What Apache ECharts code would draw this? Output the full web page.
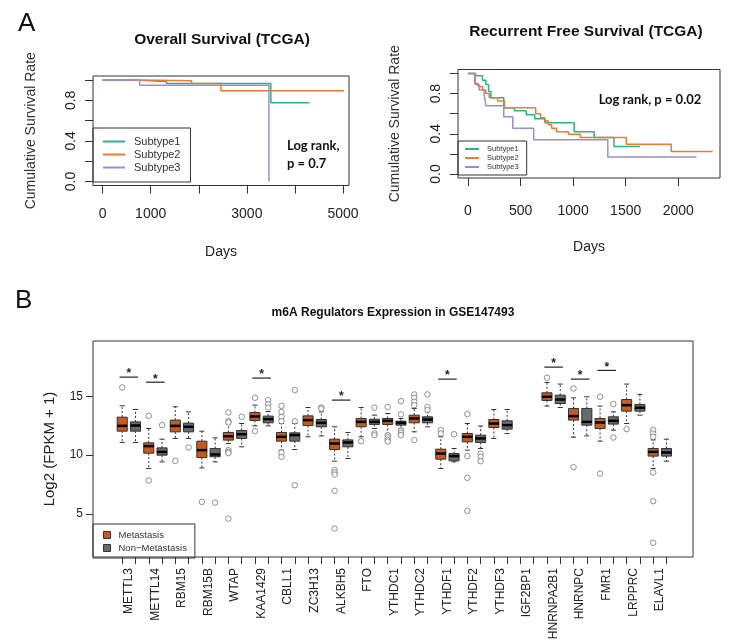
<!DOCTYPE html>
<html>
<head>
<meta charset="utf-8">
<script src="https://cdn.jsdelivr.net/npm/echarts@6/dist/echarts.min.js"></script>
<style>html,body{margin:0;padding:0;background:#fff}#main{width:738px;height:643px}</style>
</head>
<body>
<div id="main"></div>
<script>
// A - overall survival, step points (day, survival after event)
var osDays1 = [0, 620, 1330, 3500, 4300];
var osSurv1 = [1, 0.985, 0.965, 0.775, 0.775];
var osDays2 = [0, 770, 1850, 2460, 5020];
var osSurv2 = [1, 0.993, 0.967, 0.895, 0.895];
var osDays3 = [0, 770, 3460];
var osSurv3 = [1, 0.948, 0];

// A - recurrent free survival
var rfsDays1 = [0, 74, 138, 170, 196, 218, 340, 442, 554, 635, 731, 1010, 1200, 1388, 1638];
var rfsSurv1 = [1, 0.977, 0.934, 0.89, 0.82, 0.76, 0.66, 0.63, 0.59, 0.55, 0.51, 0.42, 0.363, 0.274, 0.274];
var rfsDays2 = [0, 64, 96, 138, 170, 202, 282, 346, 644, 690, 731, 763, 795, 843, 955, 1067, 1506, 1933, 2327];
var rfsSurv2 = [1, 0.9, 0.87, 0.835, 0.8, 0.76, 0.726, 0.66, 0.6, 0.56, 0.53, 0.49, 0.455, 0.42, 0.395, 0.363, 0.297, 0.224, 0.224];
var rfsDays3 = [0, 70, 106, 154, 170, 340, 426, 625, 1330, 2173];
var rfsSurv3 = [1, 0.89, 0.835, 0.785, 0.68, 0.57, 0.455, 0.34, 0.168, 0.168];

var subtypes = ['Subtype1', 'Subtype2', 'Subtype3'];
var kmColors = ['#2bb38a', '#f07b2d', '#958fd8'];

// B - boxplots: [lower whisker, Q1, median, Q3, upper whisker]
var genes = ['METTL3', 'METTL14', 'RBM15', 'RBM15B', 'WTAP', 'KAA1429', 'CBLL1', 'ZC3H13', 'ALKBH5', 'FTO',
  'YTHDC1', 'YTHDC2', 'YTHDF1', 'YTHDF2', 'YTHDF3', 'IGF2BP1', 'HNRNPA2B1', 'HNRNPC', 'FMR1', 'LRPPRC', 'ELAVL1'];
var metaStats = [
  [11.08, 12.04, 12.49, 13.23, 14.19], [8.87, 10.17, 10.77, 11.05, 12.27], [11.42, 11.98, 12.49, 12.98, 14.11],
  [8.92, 9.80, 10.43, 11.19, 12.04], [10.99, 11.28, 11.61, 11.93, 12.69], [12.49, 12.95, 13.29, 13.63, 14.25],
  [10.43, 11.19, 11.56, 11.93, 12.69], [11.56, 12.52, 12.98, 13.34, 14.05], [9.49, 10.48, 10.99, 11.36, 12.41],
  [11.56, 12.41, 12.83, 13.12, 14.05], [11.84, 12.61, 12.92, 13.12, 13.54], [11.98, 12.75, 13.12, 13.40, 13.97],
  [8.87, 9.66, 10.14, 10.51, 11.56], [10.43, 11.13, 11.56, 11.84, 12.69], [11.42, 12.35, 12.69, 13.03, 13.88],
  null, [14.17, 14.65, 14.96, 15.30, 16.18], [11.53, 12.98, 13.32, 13.97, 14.87],
  [11.19, 12.27, 12.78, 13.12, 14.17], [12.69, 13.74, 14.25, 14.73, 16.04], [8.87, 9.92, 10.28, 10.57, 11.30]
];
var nonMetaStats = [
  [11.08, 12.04, 12.52, 12.83, 13.88], [9.43, 10.00, 10.28, 10.62, 11.36], [11.42, 11.98, 12.41, 12.72, 13.68],
  [9.43, 9.86, 10.06, 10.57, 11.47], [10.71, 11.42, 11.78, 12.10, 12.69], [12.49, 12.75, 13.06, 13.32, 13.70],
  [10.48, 11.19, 11.70, 11.90, 12.69], [11.64, 12.41, 12.75, 13.03, 13.68], [9.72, 10.71, 11.08, 11.30, 11.93],
  [12.27, 12.61, 12.83, 13.06, 13.40], [12.27, 12.55, 12.75, 12.89, 13.12], [12.41, 12.75, 13.03, 13.26, 13.70],
  [9.43, 9.52, 9.92, 10.14, 10.57], [10.57, 11.08, 11.42, 11.70, 12.47], [11.84, 12.21, 12.55, 12.92, 13.88],
  null, [14.05, 14.39, 14.73, 15.10, 16.04], [11.64, 12.55, 12.83, 13.97, 14.96],
  [12.13, 12.64, 12.92, 13.26, 13.68], [13.40, 13.74, 14.03, 14.31, 15.16], [9.49, 9.92, 10.23, 10.57, 11.36]
];
var metaOutliers = [
  [15.75], [13.34, 7.85], [9.52], [6.03], [13.63, 12.89, 12.78, 10.43, 10.28, 10.17, 4.61], [14.88, 12.04],
  [14.19, 13.68, 13.26, 12.89, 10.23, 9.86], [], [8.73, 8.53, 8.35, 6.97, 3.77], [11.19],
  [14.1, 11.7, 11.5, 11.3, 11.15], [15.16, 14.88, 14.54, 14.25, 11.28], [12.13, 11.84], [13.49, 9.92, 8.07, 5.27],
  [], [], [16.58], [15.67, 8.98], [14.96, 8.44], [12.21], [12.13, 11.84, 11.56, 8.53, 6.09, 2.55]
];
var nonMetaOutliers = [
  [], [12.55], [10.65], [5.97], [13.26], [14.68, 14.34, 14.05], [15.53, 12.89, 7.45], [14.05, 13.95], [],
  [14.03, 11.85, 11.7], [14.59, 13.46, 12.1, 11.9, 11.7], [15.16, 14.11, 13.83], [11.78], [10.14, 9.86, 9.49],
  [], [], [], [], [14.34, 11.5], [], []
];
var sigGenes = ['METTL3', 'METTL14', 'KAA1429', 'ALKBH5', 'YTHDF1', 'HNRNPA2B1', 'HNRNPC', 'FMR1'];
var sigHeights = [16.63, 16.2, 16.55, 14.68, 16.46, 17.48, 16.46, 17.2];

var metaColor = '#c85a1c', nonMetaColor = '#6a6a6a';
var FONT = '"Liberation Sans", Arial, sans-serif';

function zip(xs, ys) {
  return xs.map(function (x, i) { return [x, ys[i]]; });
}
function range(a, b, step) {
  var out = [];
  for (var v = a; v <= b + 1e-9; v += step) out.push(+v.toFixed(6));
  return out;
}

var boxMeta = [], boxNon = [], outPts = [], sigData = [];
genes.forEach(function (g, k) {
  if (metaStats[k]) boxMeta.push([2 * k].concat(metaStats[k]));
  if (nonMetaStats[k]) boxNon.push([2 * k + 1].concat(nonMetaStats[k]));
  metaOutliers[k].forEach(function (v) { outPts.push([2 * k, v]); });
  nonMetaOutliers[k].forEach(function (v) { outPts.push([2 * k + 1, v]); });
});
sigGenes.forEach(function (g, j) { sigData.push([2 * genes.indexOf(g), sigHeights[j]]); });

function renderBox(params, api) {
  var x = api.value(0);
  var lo = api.coord([x, api.value(1)]);
  var q1 = api.coord([x, api.value(2)]);
  var md = api.coord([x, api.value(3)]);
  var q3 = api.coord([x, api.value(4)]);
  var hi = api.coord([x, api.value(5)]);
  var w = api.size([1, 0])[0] * 0.76;
  var cx = lo[0], cap = w * 0.25;
  var dash = { stroke: '#333', lineWidth: 1, lineDash: [2, 2] };
  var solid = { stroke: '#333', lineWidth: 1 };
  return {
    type: 'group',
    children: [
      { type: 'line', shape: { x1: cx, y1: q3[1], x2: cx, y2: hi[1] }, style: dash },
      { type: 'line', shape: { x1: cx, y1: q1[1], x2: cx, y2: lo[1] }, style: dash },
      { type: 'line', shape: { x1: cx - cap, y1: hi[1], x2: cx + cap, y2: hi[1] }, style: solid },
      { type: 'line', shape: { x1: cx - cap, y1: lo[1], x2: cx + cap, y2: lo[1] }, style: solid },
      { type: 'rect', shape: { x: cx - w / 2, y: q3[1], width: w, height: q1[1] - q3[1] },
        style: { fill: api.visual('color'), stroke: '#333', lineWidth: 1 } },
      { type: 'line', shape: { x1: cx - w / 2, y1: md[1], x2: cx + w / 2, y2: md[1] },
        style: { stroke: '#000', lineWidth: 2.5 } }
    ]
  };
}

function renderSig(params, api) {
  var g = api.value(0), h = api.value(1);
  var a = api.coord([g - 0.2, h]), b = api.coord([g + 1.2, h]);
  return {
    type: 'group',
    children: [
      { type: 'line', shape: { x1: a[0], y1: a[1], x2: b[0], y2: b[1] }, style: { stroke: '#222', lineWidth: 1.2 } },
      { type: 'text', x: (a[0] + b[0]) / 2, y: a[1] - 3,
        style: { text: '*', fill: '#222', font: 'bold 12px ' + FONT, textAlign: 'center', textVerticalAlign: 'middle' } }
    ]
  };
}

function kmX(gi, min, max, ticks, labels, lblMargin, gap) {
  return {
    gridIndex: gi, type: 'value', min: min, max: max,
    axisLine: { show: false, onZero: false },
    axisTick: { customValues: ticks, length: 8, lineStyle: { color: '#333' } },
    axisLabel: { customValues: labels, margin: lblMargin, fontSize: 14, color: '#222', fontFamily: FONT,
      formatter: function (v) { return String(v); } },
    splitLine: { show: false },
    name: 'Days', nameLocation: 'middle', nameGap: gap,
    nameTextStyle: { fontSize: 14, color: '#222', fontFamily: FONT }
  };
}
function kmY(gi, gap) {
  return {
    gridIndex: gi, type: 'value', min: -0.04, max: 1.04,
    axisLine: { show: false, onZero: false },
    axisTick: { customValues: range(0, 1, 0.2), length: 8, lineStyle: { color: '#333' } },
    axisLabel: { customValues: [0, 0.4, 0.8], rotate: 90, margin: 15, fontSize: 14, color: '#222', fontFamily: FONT,
      formatter: function (v) { return v.toFixed(1); } },
    splitLine: { show: false },
    name: 'Cumulative Survival Rate', nameLocation: 'middle', nameGap: gap,
    nameTextStyle: { fontSize: 14, color: '#333', fontFamily: FONT }
  };
}

var series = [];
[[osDays1, osSurv1], [osDays2, osSurv2], [osDays3, osSurv3]].forEach(function (d, i) {
  series.push({ name: subtypes[i], type: 'line', xAxisIndex: 0, yAxisIndex: 0, step: 'end', showSymbol: false,
    data: zip(d[0], d[1]), color: kmColors[i], lineStyle: { width: 1.5 } });
});
[[rfsDays1, rfsSurv1], [rfsDays2, rfsSurv2], [rfsDays3, rfsSurv3]].forEach(function (d, i) {
  series.push({ name: subtypes[i], type: 'line', xAxisIndex: 1, yAxisIndex: 1, step: 'end', showSymbol: false,
    data: zip(d[0], d[1]), color: kmColors[i], lineStyle: { width: 1.5 } });
});
series.push({ name: 'Metastasis', type: 'custom', xAxisIndex: 2, yAxisIndex: 2, renderItem: renderBox,
  itemStyle: { color: metaColor }, encode: { x: 0, y: [1, 2, 3, 4, 5] }, data: boxMeta });
series.push({ name: 'Non\u2212Metastasis', type: 'custom', xAxisIndex: 2, yAxisIndex: 2, renderItem: renderBox,
  itemStyle: { color: nonMetaColor }, encode: { x: 0, y: [1, 2, 3, 4, 5] }, data: boxNon });
series.push({ name: 'outliers', type: 'scatter', xAxisIndex: 2, yAxisIndex: 2, symbol: 'circle', symbolSize: 5.5,
  itemStyle: { color: '#fff', borderColor: '#777', borderWidth: 1 }, data: outPts });
series.push({ name: 'sig', type: 'custom', xAxisIndex: 2, yAxisIndex: 2, renderItem: renderSig,
  encode: { x: 0, y: 1 }, data: sigData });

var chart = echarts.init(document.getElementById('main'));
chart.setOption({
  animation: false,
  backgroundColor: '#fff',
  grid: [
    { left: 93, top: 76, width: 256, height: 109.5, show: true, borderColor: '#333', borderWidth: 1 },
    { left: 458, top: 69.5, width: 262, height: 108.5, show: true, borderColor: '#333', borderWidth: 1 },
    { left: 93, top: 341, width: 600, height: 216, show: true, borderColor: '#333', borderWidth: 1 }
  ],
  xAxis: [
    kmX(0, -200, 5125, range(0, 5000, 1000), [0, 1000, 3000, 5000], 22, 60),
    kmX(1, -95, 2397, range(0, 2000, 500), range(0, 2000, 500), 26, 62),
    {
      gridIndex: 2, type: 'value', min: -2.2, max: 43,
      axisLine: { show: false, onZero: false },
      axisTick: { customValues: range(0, 41, 1), length: 7, lineStyle: { color: '#333' } },
      axisLabel: { customValues: range(0.5, 40.5, 2), rotate: 90, margin: 11, fontSize: 12, color: '#222', fontFamily: FONT,
        formatter: function (v) { return genes[Math.round((v - 0.5) / 2)]; } },
      splitLine: { show: false }
    }
  ],
  yAxis: [
    kmY(0, 55),
    kmY(1, 56),
    {
      gridIndex: 2, type: 'value', min: 1.35, max: 19.7,
      axisLine: { show: false, onZero: false },
      axisTick: { customValues: [5, 10, 15], length: 7, lineStyle: { color: '#333' } },
      axisLabel: { customValues: [5, 10, 15], margin: 10, fontSize: 12, color: '#222', fontFamily: FONT },
      splitLine: { show: false },
      name: 'Log2 (FPKM + 1)', nameLocation: 'middle', nameGap: 36,
      nameTextStyle: { fontSize: 15, color: '#222', fontFamily: FONT }
    }
  ],
  legend: [
    { data: subtypes, orient: 'vertical', left: 93, top: 128, icon: 'rect', itemWidth: 22, itemHeight: 2, itemGap: 2,
      padding: [8, 10, 9, 10], borderColor: '#333', borderWidth: 1, selectedMode: false,
      textStyle: { fontSize: 11, color: '#333', fontFamily: FONT, padding: [0, 0, 0, 4] } },
    { data: subtypes, orient: 'vertical', left: 458, top: 141, icon: 'rect', itemWidth: 14, itemHeight: 2, itemGap: 1,
      padding: [4, 8, 4, 7], borderColor: '#333', borderWidth: 1, selectedMode: false,
      textStyle: { fontSize: 7.5, color: '#333', fontFamily: FONT, padding: [0, 0, 0, 3] } },
    { data: ['Metastasis', 'Non\u2212Metastasis'], orient: 'vertical', left: 93, top: 524, icon: 'rect',
      itemWidth: 7, itemHeight: 7, itemGap: 3, padding: [6, 8, 5, 10], borderColor: '#333', borderWidth: 1,
      selectedMode: false, itemStyle: { borderColor: '#333', borderWidth: 1 },
      textStyle: { fontSize: 9.5, color: '#333', fontFamily: FONT, padding: [0, 0, 0, 3] } }
  ],
  graphic: [
    { type: 'text', x: 18, y: 11, style: { text: 'A', font: '26px ' + FONT, fill: '#111' } },
    { type: 'text', x: 15, y: 288, style: { text: 'B', font: '26px ' + FONT, fill: '#111' } },
    { type: 'text', x: 222, y: 40, style: { text: 'Overall Survival (TCGA)', font: 'bold 15.5px ' + FONT, fill: '#111',
      textAlign: 'center', textVerticalAlign: 'middle' } },
    { type: 'text', x: 586, y: 32, style: { text: 'Recurrent Free Survival (TCGA)', font: 'bold 15.5px ' + FONT, fill: '#111',
      textAlign: 'center', textVerticalAlign: 'middle' } },
    { type: 'text', x: 393, y: 313, style: { text: 'm6A Regulators Expression in GSE147493', font: 'bold 12px ' + FONT,
      fill: '#111', textAlign: 'center', textVerticalAlign: 'middle' } },
    { type: 'text', x: 287, y: 146, style: { text: 'Log rank,', font: 'bold 13px Lato, sans-serif', fill: '#111',
      textVerticalAlign: 'middle' } },
    { type: 'text', x: 287, y: 164, style: { text: 'p = 0.7', font: 'bold 13px Lato, sans-serif', fill: '#111',
      textVerticalAlign: 'middle' } },
    { type: 'text', x: 650, y: 100, style: { text: 'Log rank, p = 0.02', font: 'bold 13px Lato, sans-serif', fill: '#111',
      textAlign: 'center', textVerticalAlign: 'middle' } }
  ],
  series: series
});
</script>
</body>
</html>
